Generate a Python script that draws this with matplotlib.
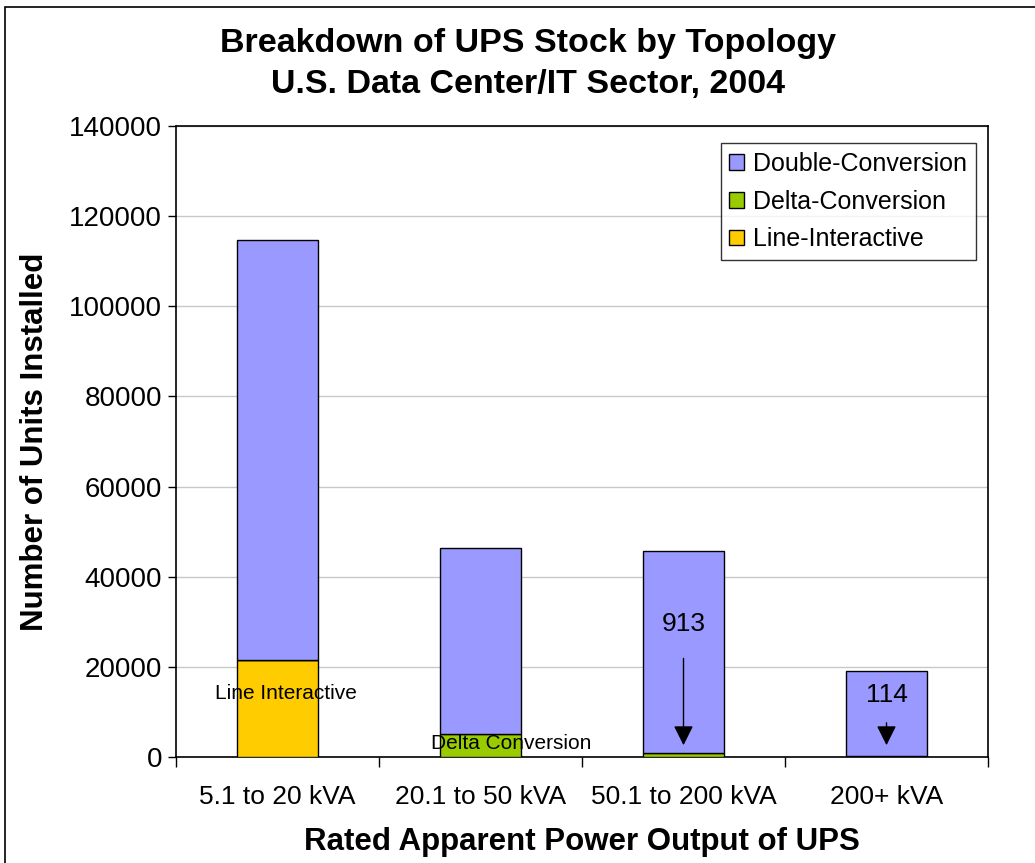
import matplotlib

matplotlib.use("Agg")

import matplotlib.pyplot as plt  # noqa: E402
import numpy as np  # noqa: E402
from matplotlib.patches import Rectangle  # noqa: E402

plt.rcParams["font.family"] = ["Liberation Sans", "DejaVu Sans"]

categories = ["5.1 to 20 kVA", "20.1 to 50 kVA", "50.1 to 200 kVA", "200+ kVA"]
line_interactive = [21500, 0, 0, 0]
delta_conversion = [0, 5100, 913, 114]
double_conversion = [93100, 41300, 44800, 18900]

colors = {"double": "#9999FF", "delta": "#99CC00", "line": "#FFCC00"}

fig = plt.figure(figsize=(10.35, 8.63), dpi=100)
# outer chart border (left/top visible, right/bottom run off the picture)
fig.patches.append(Rectangle((5 / 1035, -0.1), 1.2, 1 - 7 / 863 + 0.1, transform=fig.transFigure,
                             fill=False, edgecolor="black", linewidth=1.2))
ax = fig.add_axes([176 / 1035, 1 - 757 / 863, (988 - 176) / 1035, (757 - 126) / 863])

x = np.arange(len(categories))
w = 0.4
li = np.array(line_interactive)
de = np.array(delta_conversion)
do = np.array(double_conversion)
ax.bar(x, li, w, color=colors["line"], edgecolor="black", linewidth=1, label="Line-Interactive", zorder=3)
ax.bar(x, de, w, bottom=li, color=colors["delta"], edgecolor="black", linewidth=1,
       label="Delta-Conversion", zorder=3)
ax.bar(x, do, w, bottom=li + de, color=colors["double"], edgecolor="black", linewidth=1,
       label="Double-Conversion", zorder=3)

ax.set_xlim(-0.5, len(categories) - 0.5)
ax.set_ylim(0, 140000)
ax.set_yticks(np.arange(0, 140001, 20000))
ax.set_xticks(np.arange(-0.5, len(categories), 1.0), minor=False)
ax.set_xticklabels([])
ax.set_xticks(x, minor=True)
ax.set_xticklabels(categories, minor=True)
ax.tick_params(axis="x", which="minor", length=0, pad=20, labelsize=19)
ax.tick_params(axis="x", which="major", length=7, width=1, direction="out")
ax.tick_params(axis="y", length=6, width=1, direction="out", labelsize=20, pad=4)
ax.grid(axis="y", color="#C8C8C8", linewidth=1, zorder=0)
for s in ax.spines.values():
    s.set_linewidth(1.2)

ax.set_ylabel("Number of Units Installed", fontsize=22.5, fontweight="bold", labelpad=14)
ax.set_xlabel("Rated Apparent Power Output of UPS", fontsize=22.5, fontweight="bold", labelpad=13)
fig.text(528 / 1035, 1 - 64 / 863, "Breakdown of UPS Stock by Topology\nU.S. Data Center/IT Sector, 2004",
         ha="center", va="center", fontsize=24.5, fontweight="bold", linespacing=1.4)

# annotations
ax.text(x[0] + 0.04, 14000, "Line Interactive", ha="center", va="center", fontsize=15, zorder=4)
ax.text(x[1] + 0.15, 3100, "Delta Conversion", ha="center", va="center", fontsize=15, zorder=4)
ax.text(x[2], 29500, "913", ha="center", va="center", fontsize=19, zorder=4)
ax.annotate("", xy=(x[2], 2000), xytext=(x[2], 22500),
            arrowprops=dict(arrowstyle="-|>", color="black", lw=1, mutation_scale=30), zorder=4)
ax.text(x[3], 13800, "114", ha="center", va="center", fontsize=19, zorder=4)
ax.annotate("", xy=(x[3], 2000), xytext=(x[3], 8200),
            arrowprops=dict(arrowstyle="-|>", color="black", lw=1, mutation_scale=30), zorder=4)

handles, labels = ax.get_legend_handles_labels()
leg = ax.legend(handles[::-1], labels[::-1], loc="upper right", bbox_to_anchor=(0.985, 0.973),
                borderaxespad=0, fontsize=18, frameon=True, fancybox=False, edgecolor="black",
                handlelength=0.6, handleheight=0.6, handletextpad=0.35, borderpad=0.35, labelspacing=0.55)
leg.get_frame().set_linewidth(1)

fig.savefig("out.png", dpi=100)
